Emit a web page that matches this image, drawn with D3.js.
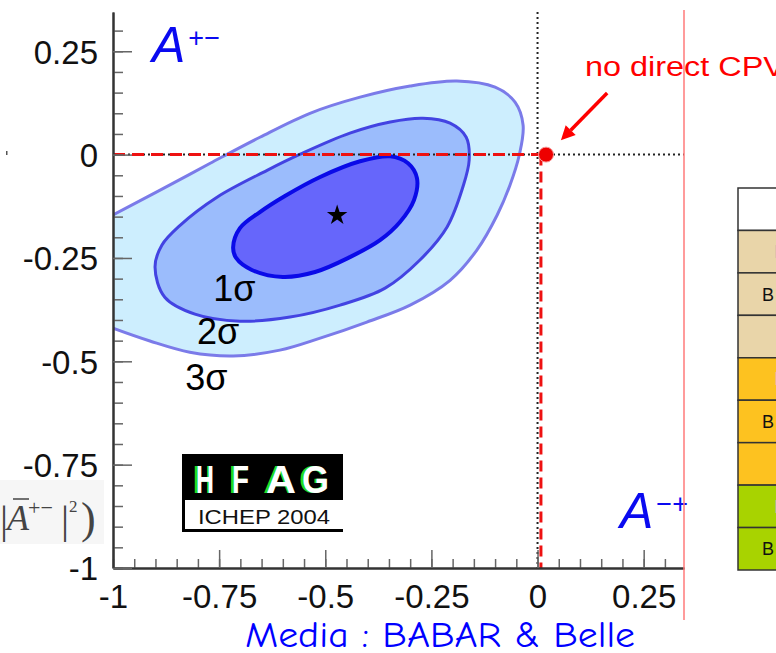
<!DOCTYPE html>
<html>
<head>
<meta charset="utf-8">
<script src="https://cdn.jsdelivr.net/npm/d3@7"></script>
<style>
  html, body { margin: 0; padding: 0; background: #fff; }
  svg { display: block; font-family: "Liberation Sans", Arial, Helvetica, sans-serif; }
  .axis .domain { stroke: #333; stroke-width: 2; }
  .axis .tick line { stroke: #666; stroke-width: 1.5; }
  .axis text { font-size: 33px; fill: #111; font-family: "Liberation Sans", Arial, sans-serif; }
</style>
</head>
<body>
<div id="chart"></div>
<script>
// tick labels (both axes share the same values)
const xTickValues = [-1, -0.75, -0.5, -0.25, 0, 0.25];
const yTickValues = [-1, -0.75, -0.5, -0.25, 0, 0.25];

// contour outlines, [A(-+), A(+-)]
const contour3s = [
  [-1.125, -0.291], [-1.078, -0.190], [-1.000, -0.146], [-0.889, -0.086], [-0.771, -0.021],
  [-0.654, 0.042], [-0.536, 0.100], [-0.418, 0.139], [-0.300, 0.166], [-0.190, 0.178],
  [-0.100, 0.163], [-0.053, 0.127], [-0.034, 0.071], [-0.043, -0.001], [-0.065, -0.074],
  [-0.095, -0.146], [-0.143, -0.231], [-0.206, -0.304], [-0.300, -0.364], [-0.402, -0.405],
  [-0.512, -0.444], [-0.607, -0.473], [-0.717, -0.487], [-0.819, -0.478], [-0.913, -0.451],
  [-1.000, -0.420], [-1.078, -0.389]
];
const contour2s = [
  [-0.901, -0.272], [-0.885, -0.219], [-0.842, -0.171], [-0.755, -0.103], [-0.637, -0.038],
  [-0.559, 0.001], [-0.442, 0.052], [-0.347, 0.079], [-0.270, 0.088], [-0.206, 0.076],
  [-0.168, 0.042], [-0.161, -0.013], [-0.176, -0.079], [-0.213, -0.175], [-0.277, -0.255],
  [-0.359, -0.323], [-0.465, -0.364], [-0.583, -0.393], [-0.701, -0.403], [-0.807, -0.386],
  [-0.878, -0.345]
];
const contour1s = [
  [-0.717, -0.224], [-0.701, -0.178], [-0.654, -0.139], [-0.595, -0.100], [-0.512, -0.054],
  [-0.418, -0.016], [-0.347, -0.004], [-0.305, -0.021], [-0.284, -0.057], [-0.291, -0.110],
  [-0.324, -0.163], [-0.371, -0.207], [-0.442, -0.248], [-0.524, -0.284], [-0.600, -0.296],
  [-0.673, -0.279], [-0.710, -0.250]
];
const bestFit = [-0.472, -0.147];
const noCpvPoint = [0.02, 0];
const sigmaLabels = ["1σ", "2σ", "3σ"];

// table on the right edge of the slide
const tableGroups = ["head", "tan", "tan", "tan", "orange", "orange", "orange", "green", "green"];
const tableLabels = ["", "", "B", "", "", "B", "", "", "B"];

class ContourChart {
  constructor(_config) {
    this.config = {
      parentElement: _config.parentElement,
      containerWidth: 776,
      containerHeight: 653,
      margin: { top: 12, right: 92, bottom: 85, left: 113 },
    };
    this.initVis();
  }

  initVis() {
    let vis = this;

    vis.width = vis.config.containerWidth - vis.config.margin.left - vis.config.margin.right;
    vis.height = vis.config.containerHeight - vis.config.margin.top - vis.config.margin.bottom;

    vis.xScale = d3.scaleLinear().domain([-1, 0.345]).range([0, vis.width]);
    vis.yScale = d3.scaleLinear().domain([-1, 0.345]).range([vis.height, 0]);

    vis.svg = d3
      .select(vis.config.parentElement)
      .append("svg")
      .attr("width", vis.config.containerWidth)
      .attr("height", vis.config.containerHeight);

    vis.chart = vis.svg
      .append("g")
      .attr("transform", `translate(${vis.config.margin.left},${vis.config.margin.top})`);

    vis.chart
      .append("defs")
      .append("clipPath")
      .attr("id", "plot-clip")
      .append("rect")
      .attr("width", vis.width)
      .attr("height", vis.height);

    vis.renderVis();
    vis.renderAxes();
    vis.renderAnnotations();
    vis.renderTable();
  }

  renderVis() {
    let vis = this;
    const x = vis.xScale, y = vis.yScale;

    const line = d3.line()
      .x((d) => x(d[0]))
      .y((d) => y(d[1]))
      .curve(d3.curveCatmullRomClosed.alpha(0.5));

    const contours = vis.chart.append("g").attr("clip-path", "url(#plot-clip)");
    const styles = [
      { data: contour3s, fill: "#cdeefe", stroke: "#7b7be9", w: 3 },
      { data: contour2s, fill: "#9bbcfc", stroke: "#4343e2", w: 3 },
      { data: contour1s, fill: "#6666fb", stroke: "#0a0ae8", w: 4 },
    ];
    contours.selectAll(".contour")
      .data(styles)
      .join("path")
      .attr("class", "contour")
      .attr("d", (d) => line(d.data))
      .attr("fill", (d) => d.fill)
      .attr("stroke", (d) => d.stroke)
      .attr("stroke-width", (d) => d.w);

    // best fit star
    vis.chart.append("path")
      .attr("d", d3.symbol(d3.symbolStar, 130)())
      .attr("transform", `translate(${x(bestFit[0])},${y(bestFit[1])})`)
      .attr("fill", "#000");

    // sigma labels
    const labelPos = [[-0.764, -0.355], [-0.802, -0.458], [-0.830, -0.570]];
    vis.chart.selectAll(".sigma")
      .data(sigmaLabels)
      .join("text")
      .attr("class", "sigma")
      .attr("x", (d, i) => x(labelPos[i][0]))
      .attr("y", (d, i) => y(labelPos[i][1]))
      .attr("font-size", 36)
      .attr("fill", "#000")
      .text((d) => d);

    // reference lines
    vis.chart.append("line")
      .attr("x1", x(0)).attr("x2", x(0))
      .attr("y1", 0).attr("y2", vis.height)
      .attr("stroke", "#222").attr("stroke-width", 2)
      .attr("stroke-dasharray", "2,3");
    vis.chart.append("line")
      .attr("x1", 0).attr("x2", vis.width)
      .attr("y1", y(0)).attr("y2", y(0))
      .attr("stroke", "#222").attr("stroke-width", 2)
      .attr("stroke-dasharray", "2,3");

    vis.chart.append("line")
      .attr("x1", 0).attr("x2", x(noCpvPoint[0]))
      .attr("y1", y(0)).attr("y2", y(0))
      .attr("stroke", "#ee1111").attr("stroke-width", 3)
      .attr("stroke-dasharray", "12,7");
    vis.chart.append("line")
      .attr("x1", x(0.008)).attr("x2", x(0.008))
      .attr("y1", y(0)).attr("y2", vis.height)
      .attr("stroke", "#ee1111").attr("stroke-width", 3)
      .attr("stroke-dasharray", "11,6");

    vis.chart.append("circle")
      .attr("cx", x(noCpvPoint[0]))
      .attr("cy", y(noCpvPoint[1]))
      .attr("r", 7.5)
      .attr("fill", "#ee0000")
      .attr("stroke", "#f7a0a0")
      .attr("stroke-width", 1);
  }

  renderAxes() {
    let vis = this;
    const fmt = (d) => String(d);

    // minor ticks
    const minor = d3.range(0, 27).map((i) => -1 + i * 0.05);
    vis.chart.append("g").attr("class", "axis")
      .attr("transform", `translate(0,${vis.height})`)
      .call(d3.axisBottom(vis.xScale).tickValues(minor).tickSize(-9).tickSizeOuter(0).tickFormat(""));
    vis.chart.append("g").attr("class", "axis")
      .call(d3.axisLeft(vis.yScale).tickValues(minor).tickSize(-10).tickSizeOuter(0).tickFormat(""));

    // major ticks + labels
    vis.xAxisG = vis.chart.append("g").attr("class", "axis")
      .attr("transform", `translate(0,${vis.height})`)
      .call(d3.axisBottom(vis.xScale).tickValues(xTickValues).tickSize(-18).tickSizeOuter(0)
        .tickPadding(17).tickFormat(fmt));
    vis.yAxisG = vis.chart.append("g").attr("class", "axis")
      .call(d3.axisLeft(vis.yScale).tickValues(yTickValues).tickSize(-19).tickSizeOuter(0)
        .tickPadding(15).tickFormat(fmt));
    vis.yAxisG.selectAll("text").attr("dy", "0.36em");
  }

  renderAnnotations() {
    let vis = this;
    const x = vis.xScale, y = vis.yScale;
    const svg = vis.svg;
    const ox = vis.config.margin.left, oy = vis.config.margin.top;

    // A+- and A-+ corner labels
    const aLabel = (px, py, sup) => {
      const t = svg.append("text").attr("x", px).attr("y", py).attr("fill", "#0a0af0");
      t.append("tspan").attr("font-size", 50).attr("font-style", "italic").text("A");
      t.append("tspan").attr("font-size", 27).attr("dx", 3).attr("dy", -15).text(sup);
    };
    aLabel(152, 62, "+\u2212");
    aLabel(620, 528, "\u2212+");

    // "no direct CPV" with arrow
    svg.append("text")
      .attr("x", 585).attr("y", 76)
      .attr("font-size", 27)
      .attr("fill", "#f00")
      .attr("textLength", 200)
      .attr("lengthAdjust", "spacingAndGlyphs")
      .text("no direct CPV");

    const tail = [ox + x(0.164), oy + y(0.149)];
    const tip = [ox + x(0.055), oy + y(0.035)];
    const ang = Math.atan2(tip[1] - tail[1], tip[0] - tail[0]);
    const back = [tip[0] - 14 * Math.cos(ang), tip[1] - 14 * Math.sin(ang)];
    svg.append("line")
      .attr("x1", tail[0]).attr("y1", tail[1])
      .attr("x2", back[0]).attr("y2", back[1])
      .attr("stroke", "#f00").attr("stroke-width", 3.5);
    const hw = 7;
    svg.append("path")
      .attr("d", `M${tip[0]},${tip[1]}` +
        `L${back[0] + hw * Math.sin(ang)},${back[1] - hw * Math.cos(ang)}` +
        `L${back[0] - hw * Math.sin(ang)},${back[1] + hw * Math.cos(ang)}Z`)
      .attr("fill", "#f00");

    // thin red vertical line at the right end of the x axis
    svg.append("line")
      .attr("x1", ox + vis.width).attr("x2", ox + vis.width)
      .attr("y1", 10).attr("y2", 620)
      .attr("stroke", "#ff7a7a").attr("stroke-width", 1.5);

    // HFAG logo
    const logo = svg.append("g");
    logo.append("rect").attr("x", 182).attr("y", 454).attr("width", 161).attr("height", 46).attr("fill", "#000");
    const letters = [["H", 196, 20], ["F", 232, 19], ["A", 266, 32], ["G", 302, 29]];
    letters.forEach(([ch, lx, lw]) => {
      logo.append("text").attr("x", lx - 3).attr("y", 493)
        .attr("font-size", 38).attr("font-weight", "bold").attr("fill", "#22dd22")
        .attr("textLength", lw).attr("lengthAdjust", "spacingAndGlyphs").text(ch);
      logo.append("text").attr("x", lx).attr("y", 493)
        .attr("font-size", 38).attr("font-weight", "bold").attr("fill", "#fff")
        .attr("textLength", lw - 2).attr("lengthAdjust", "spacingAndGlyphs").text(ch);
    });
    logo.append("path").attr("d", "M183.5,500V530.5H343")
      .attr("fill", "none").attr("stroke", "#000").attr("stroke-width", 3);
    logo.append("text").attr("x", 198).attr("y", 524)
      .attr("font-size", 21).attr("fill", "#111")
      .attr("textLength", 132).attr("lengthAdjust", "spacingAndGlyphs").text("ICHEP 2004");

    // cut-off y axis title on the left
    const ttl = svg.append("g").attr("font-family", "'Liberation Serif', 'DejaVu Serif', serif").attr("fill", "#444");
    ttl.append("rect").attr("x", 0).attr("y", 480).attr("width", 104).attr("height", 64).attr("fill", "#f6f6f6");
    ttl.append("text").attr("x", 0).attr("y", 533).attr("font-size", 40).text("|");
    ttl.append("text").attr("x", 7).attr("y", 530).attr("font-size", 36).attr("font-style", "italic").text("A");
    ttl.append("line").attr("x1", 13).attr("x2", 29).attr("y1", 499).attr("y2", 499).attr("stroke", "#444").attr("stroke-width", 1.5);
    ttl.append("text").attr("x", 28).attr("y", 515).attr("font-size", 22).text("+\u2212");
    ttl.append("text").attr("x", 61).attr("y", 533).attr("font-size", 40).text("|");
    ttl.append("text").attr("x", 69).attr("y", 512).attr("font-size", 17).text("2");
    ttl.append("text").attr("x", 81).attr("y", 533).attr("font-size", 44).text(")");
    svg.append("rect").attr("x", 6).attr("y", 151).attr("width", 1.5).attr("height", 4).attr("fill", "#555");

    // bottom caption
    svg.append("text")
      .attr("x", 245).attr("y", 647)
      .attr("font-family", "'Comic Sans MS', 'Comic Neue', 'DejaVu Sans', sans-serif")
      .attr("font-size", 36)
      .attr("fill", "#0000ff")
      .attr("textLength", 390)
      .attr("lengthAdjust", "spacingAndGlyphs")
      .text("Media : BABAR & Belle");
  }

  renderTable() {
    let vis = this;
    const groupFill = { head: "#ffffff", tan: "#e9d5a9", orange: "#fdc220", green: "#a8d300" };
    const rowScale = d3.scaleBand().domain(d3.range(tableGroups.length)).range([188, 570]);

    const rows = vis.svg.append("g").selectAll(".row")
      .data(tableGroups)
      .join("g")
      .attr("class", "row")
      .attr("transform", (d, i) => `translate(738,${rowScale(i)})`);

    rows.append("rect")
      .attr("width", 80)
      .attr("height", rowScale.bandwidth())
      .attr("fill", (d) => groupFill[d])
      .attr("stroke", "#333")
      .attr("stroke-width", 1.5);

    rows.append("text")
      .attr("x", 24)
      .attr("y", rowScale.bandwidth() / 2)
      .attr("dy", "0.36em")
      .attr("font-size", 18)
      .attr("fill", "#111")
      .text((d, i) => tableLabels[i]);

    rows.filter((d, i) => i === 1 || i === 4 || i === 7)
      .append("text")
      .attr("x", 36)
      .attr("y", rowScale.bandwidth() / 2)
      .attr("dy", "0.36em")
      .attr("font-size", 18)
      .attr("fill", "#aaa")
      .text("I");
  }
}

new ContourChart({ parentElement: "#chart" });
</script>
</body>
</html>
